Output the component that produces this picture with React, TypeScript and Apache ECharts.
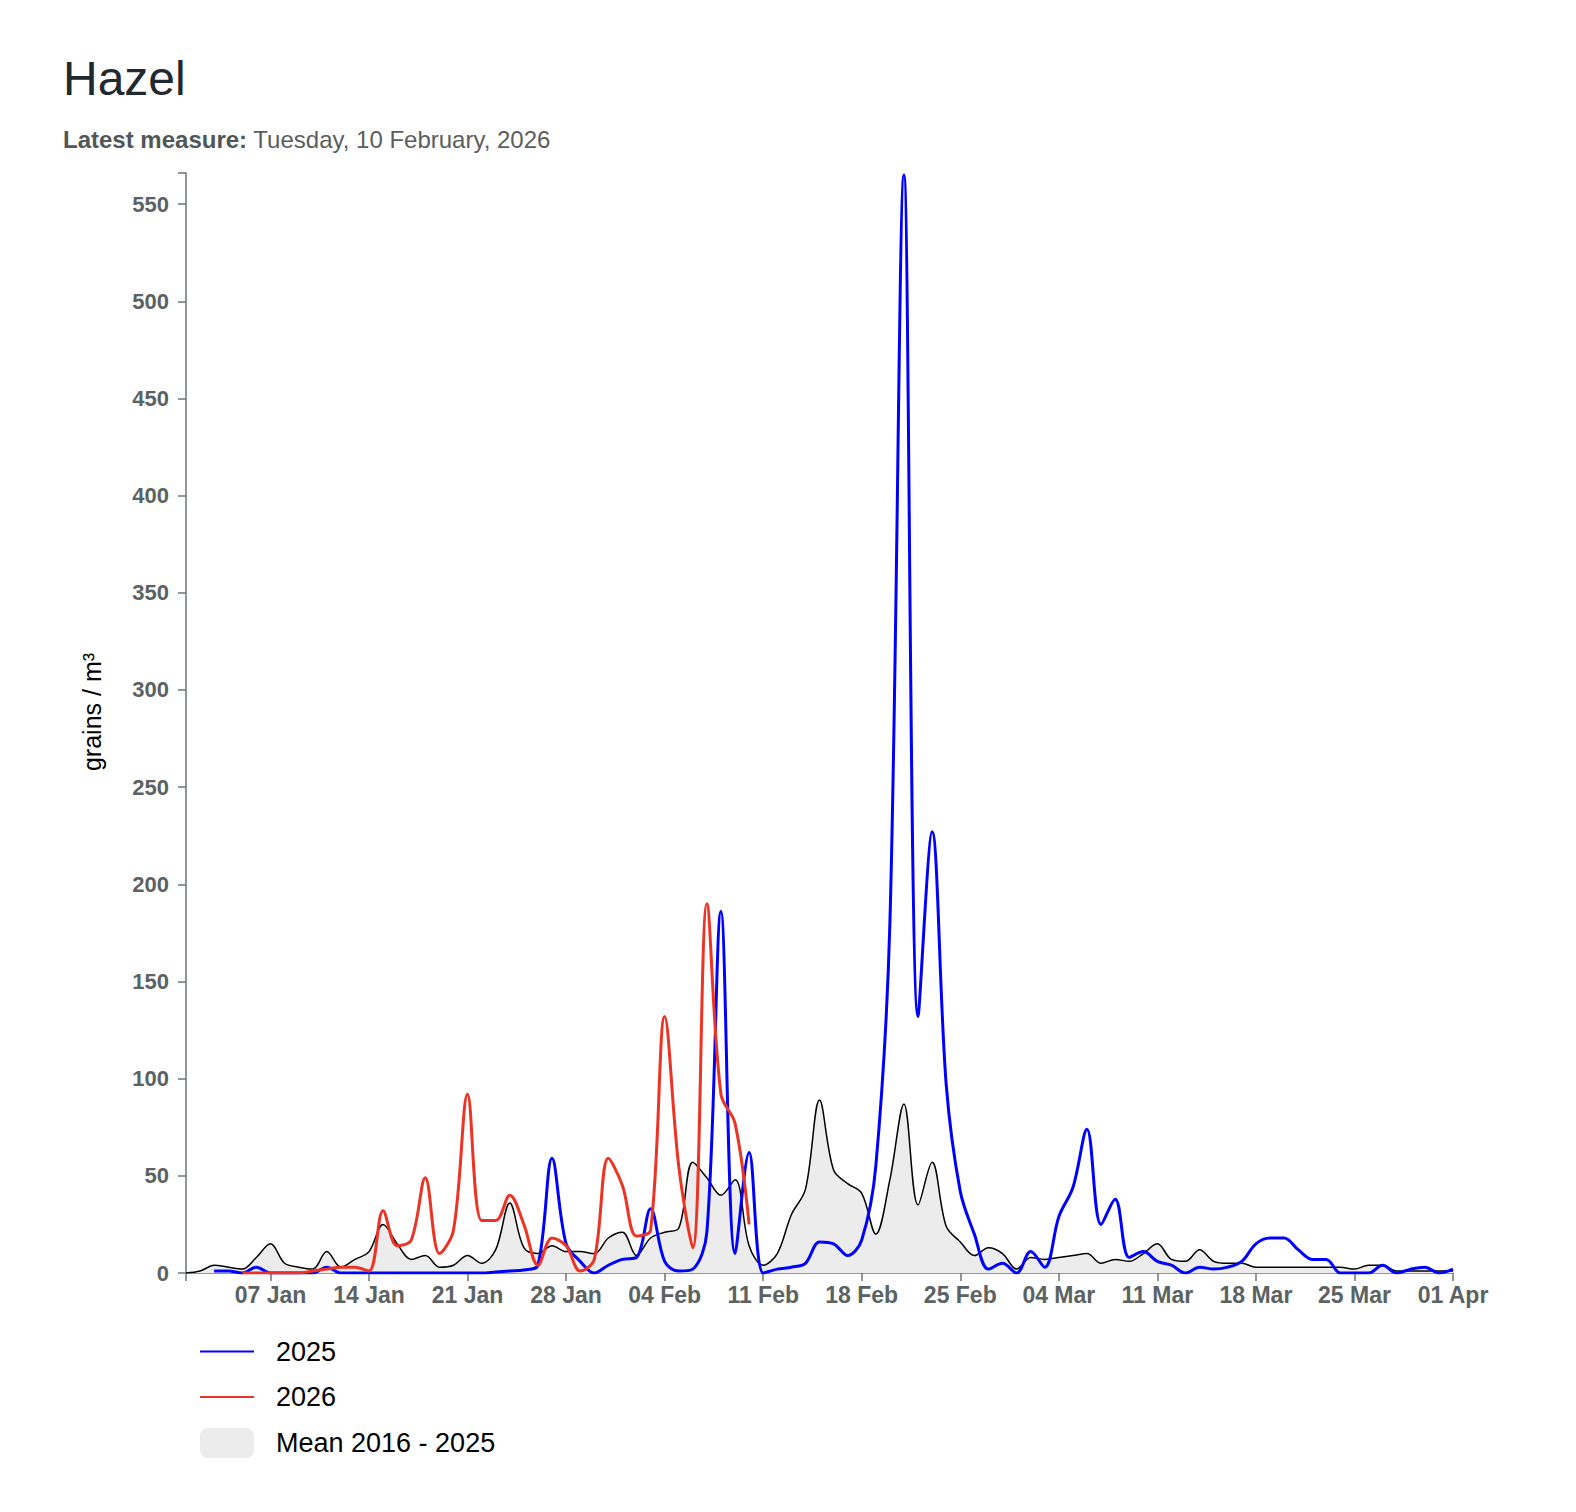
import React, { useEffect, useRef } from "react";
import * as echarts from "echarts";

// ---- Data ----
const monthNames = ["Jan", "Feb", "Mar", "Apr"];
const monthLengths = [31, 28, 31, 1];

const categories: string[] = [];
monthNames.forEach((m, mi) => {
  for (let d = 1; d <= monthLengths[mi]; d++) {
    categories.push((d < 10 ? "0" + d : "" + d) + " " + m);
  }
});

// 2025 season (Jan 1 .. Apr 1)
const values2025: (number | null)[] = [
  null, null, 1, 1, 0, 3, 0, 0, 0, 0, // 01-10 Jan
  3, 0, 0, 0, 0, 0, 0, 0, 0, 0, // 11-20 Jan
  0, 0, 0.5, 1, 1.5, 4, 59, 15, 6, 0, // 21-30 Jan
  4, 7, 8, 33, 6, 1, 2, 21, 186, 10, // 31 Jan - 09 Feb
  62, 0, 2, 3, 5, 16, 15, 9, 17, 55, // 10-19 Feb
  180, 565, 132, 227, 97, 42, 20, 2, 5, 0, // 20 Feb - 01 Mar
  11, 3, 29, 44, 74, 25, 38, 8, 11, 6, // 02-11 Mar
  4, 0, 3, 2, 3, 6, 15, 18, 18, 12, // 12-21 Mar
  7, 7, 0, 0, 0, 4, 0, 2, 3, 0, // 22-31 Mar
  2, // 01 Apr
];

// 2026 season (until latest measure, 10 Feb)
const values2026: (number | null)[] = [
  null, null, null, null, 0, 0, 0, 0, 0, 1, // 01-10 Jan
  2, 3, 3, 1, 32, 14, 17, 49, 10, 22, // 11-20 Jan
  92, 27, 27, 40, 25, 4, 18, 14, 1, 7, // 21-30 Jan
  59, 45, 19, 22, 132, 55, 13, 190, 92, 77, // 31 Jan - 09 Feb
  25, null, null, null, null, null, null, null, null, null,
  null, null, null, null, null, null, null, null, null, null,
  null, null, null, null, null, null, null, null, null, null,
  null, null, null, null, null, null, null, null, null, null,
  null, null, null, null, null, null, null, null, null, null,
  null,
];

// Mean 2016 - 2025
const valuesMean: number[] = [
  0, 1, 4, 3, 2, 8, 15, 5, 3, 2, // 01-10 Jan
  11, 3, 7, 11, 25, 15, 7, 9, 3, 4, // 11-20 Jan
  9, 5, 12, 36, 13, 10, 14, 11, 11, 10, // 21-30 Jan
  18, 21, 9, 18, 21, 23, 57, 49, 40, 48, // 31 Jan - 09 Feb
  14, 4, 10, 30, 43, 89, 53, 46, 41, 20, // 10-19 Feb
  48, 87, 35, 57, 24, 16, 9, 13, 10, 2, // 20 Feb - 01 Mar
  8, 7, 8, 9, 10, 5, 7, 6, 10, 15, // 02-11 Mar
  7, 6, 12, 6, 5, 5, 3, 3, 3, 3, // 12-21 Mar
  3, 3, 3, 2, 4, 4, 1, 1, 1, 1, // 22-31 Mar
  1, // 01 Apr
];

const yTickInterval = 50;
const yMax = 566;

const FONT = "'Liberation Sans', Arial, Helvetica, sans-serif";
const AXIS_GRAY = "#6d7474";
const LABEL_GRAY = "#5a6262";

export default function App() {
  const ref = useRef<HTMLDivElement>(null);

  useEffect(() => {
    document.body.style.margin = "0";
    if (!ref.current) return;
    const chart = echarts.init(ref.current, null, { renderer: "svg" });

    const isLabelIdx = (i: number) => i >= 6 && (i - 6) % 7 === 0;

    chart.setOption({
      animation: false,
      textStyle: { fontFamily: FONT },
      title: [
        {
          text: "Hazel",
          left: 63,
          top: 54,
          padding: 0,
          textStyle: { fontSize: 48, fontWeight: "normal", color: "#1f2a30", fontFamily: FONT },
        },
        {
          text: "{b|Latest measure:} Tuesday, 10 February, 2026",
          left: 63,
          top: 127,
          padding: 0,
          textStyle: {
            fontSize: 24,
            fontWeight: "normal",
            color: "#5a5e5e",
            fontFamily: FONT,
            rich: {
              b: { fontSize: 24, fontWeight: "bold", color: "#4f5757", fontFamily: FONT },
            },
          },
        },
      ],
      legend: [
        {
          data: [
            { name: "2025", icon: "rect" },
            { name: "2026", icon: "rect" },
          ],
          orient: "vertical",
          left: 200,
          top: 1338,
          padding: 0,
          itemWidth: 54,
          itemHeight: 2,
          itemGap: 18.5,
          selectedMode: false,
          textStyle: { fontSize: 27, color: "#000", fontFamily: FONT, padding: [0, 0, 0, 17] },
        },
        {
          data: [
            {
              name: "Mean 2016 - 2025",
              icon: "roundRect",
              itemStyle: { color: "#ececec", borderWidth: 0, borderColor: "#ececec" },
            },
          ],
          orient: "vertical",
          left: 200,
          top: 1428,
          padding: 0,
          itemWidth: 54,
          itemHeight: 30,
          selectedMode: false,
          textStyle: { fontSize: 27, color: "#000", fontFamily: FONT, padding: [4, 0, 0, 17] },
        },
      ],
      grid: { left: 186, right: 123, top: 173, bottom: 239 },
      xAxis: {
        type: "category",
        data: categories,
        boundaryGap: false,
        axisLine: { lineStyle: { color: AXIS_GRAY, width: 1.5 } },
        axisTick: {
          length: 8,
          interval: (i: number) => i === 0 || isLabelIdx(i),
          lineStyle: { color: AXIS_GRAY, width: 1.5 },
        },
        axisLabel: {
          interval: (i: number) => isLabelIdx(i),
          fontSize: 23,
          fontWeight: "bold",
          color: LABEL_GRAY,
          margin: 10,
          fontFamily: FONT,
        },
        splitLine: { show: false },
      },
      yAxis: {
        type: "value",
        min: 0,
        max: yMax,
        interval: yTickInterval,
        axisLine: { show: true, lineStyle: { color: AXIS_GRAY, width: 1.5 } },
        axisTick: { show: true, length: 8, lineStyle: { color: AXIS_GRAY, width: 1.5 } },
        axisLabel: {
          fontSize: 22,
          fontWeight: "bold",
          color: LABEL_GRAY,
          margin: 17,
          showMaxLabel: false,
          fontFamily: FONT,
        },
        splitLine: { show: false },
      },
      graphic: [
        {
          type: "text",
          x: 92,
          y: 712,
          rotation: Math.PI / 2,
          style: {
            text: "grains / m³",
            fontSize: 25,
            fontFamily: FONT,
            fill: "#000",
            align: "center",
            verticalAlign: "middle",
          },
        },
        {
          type: "line",
          shape: { x1: 178, y1: 173, x2: 186, y2: 173 },
          style: { stroke: AXIS_GRAY, lineWidth: 1.5 },
          silent: true,
        },
      ],
      series: [
        {
          name: "Mean 2016 - 2025",
          type: "line",
          data: valuesMean,
          smooth: 0.35,
          showSymbol: false,
          silent: true,
          lineStyle: { color: "#000", width: 1.5 },
          itemStyle: { color: "#000" },
          areaStyle: { color: "#ececec", opacity: 1 },
          z: 1,
        },
        {
          name: "2025",
          type: "line",
          data: values2025,
          smooth: 0.35,
          showSymbol: false,
          silent: true,
          lineStyle: { color: "#0000ff", width: 3 },
          itemStyle: { color: "#0000ff" },
          z: 2,
        },
        {
          name: "2026",
          type: "line",
          data: values2026,
          smooth: 0.35,
          showSymbol: false,
          silent: true,
          lineStyle: { color: "#ec3324", width: 3 },
          itemStyle: { color: "#ec3324" },
          z: 3,
        },
      ],
    });

    return () => chart.dispose();
  }, []);

  return <div ref={ref} style={{ width: 1576, height: 1512 }} />;
}
